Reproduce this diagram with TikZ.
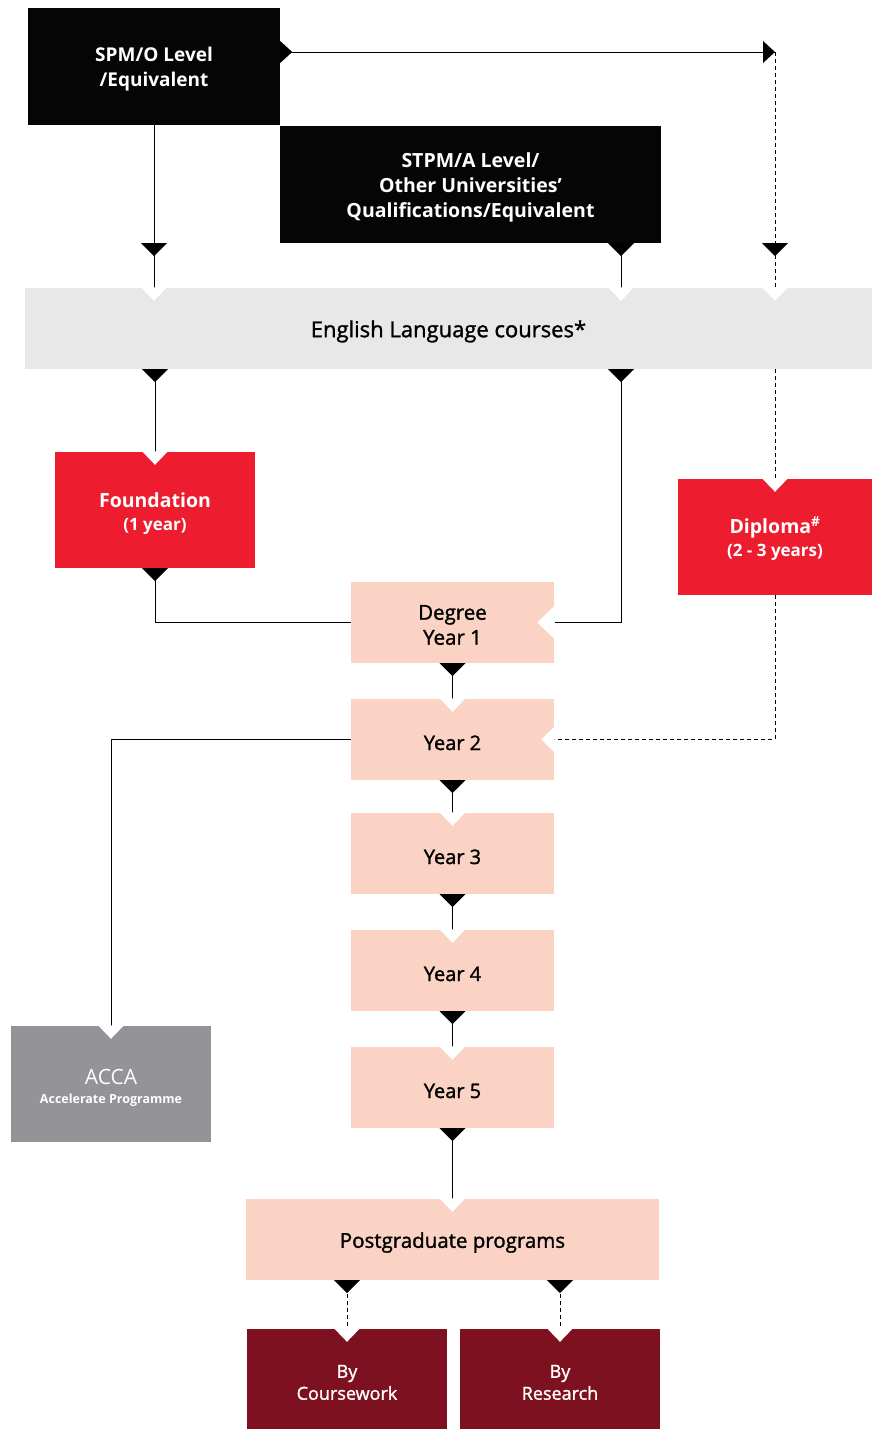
\documentclass[tikz,border=0pt]{standalone}
\usepackage{fontspec}
\setmainfont{Open Sans}
\newfontfamily\semibold{Open Sans}[FakeBold=1.4]
\usetikzlibrary{positioning}

\definecolor{boxblack}{HTML}{050505}
\definecolor{boxgrey}{HTML}{E8E8E8}
\definecolor{boxred}{HTML}{ED1C2E}
\definecolor{boxpeach}{HTML}{FBD3C5}
\definecolor{boxwine}{HTML}{7D1120}
\definecolor{boxstone}{HTML}{939398}

\newcommand*\mainsize{\fontsize{19}{25}\selectfont}
\newcommand*\subsize{\fontsize{17}{23}\selectfont}
\tikzset{
    drop/.initial=6pt,
    stage/.style 2 args={
        rectangle,
        inner sep=0pt,
        minimum width=#1,
        minimum height=#2,
        align=center,
        font=\mainsize,
        execute at begin node={\rule{0pt}{\dimexpr\fontcharht\font`\l+\pgfkeysvalueof{/tikz/drop}\relax}}
    },
    entrybox/.style={stage={252}{117}, fill=boxblack, text=white, font=\mainsize\bfseries, drop=31pt},
    yearbox/.style={stage={203}{81}, fill=boxpeach, font=\fontsize{20}{25}\selectfont\semibold},
    redbox/.style={stage={200}{116}, fill=boxred, text=white, font=\fontsize{19.5}{23}\selectfont\bfseries, drop=31pt},
    pgbox/.style={stage={200}{100}, fill=boxwine, text=white, font=\fontsize{18}{22}\selectfont\semibold, drop=28pt},
    link/.style={line width=0.8pt},
    dlink/.style={link, dash pattern=on 4pt off 3pt},
    tipdown/.pic={\fill[black] (-13,0) -- (13,0) -- (0,13) -- cycle;},
    tipright/.pic={\fill[black] (-12,-11) -- (-12,11) -- (0,0) -- cycle;},
    notchdown/.pic={\fill[white] (-13,-0.5) -- (13,-0.5) -- (0,13) -- cycle;},
    notchleft/.pic={\fill[white] (0.5,-13) -- (0.5,13) -- (-13,0) -- cycle;}
}

\begin{document}
\begin{tikzpicture}[x=1pt,y=-1pt]
    \useasboundingbox (0,0) rectangle (872,1429);

    % Entry qualifications on top.
    \node[entrybox] (spm) at (154,66.5) {SPM/O Level\\/Equivalent};
    \node[entrybox, minimum width=381, font=\fontsize{19.5}{25}\selectfont\bfseries, drop=56pt] (stpm) at (470.5,184.5)
        {STPM/A Level/\\Other Universities'\\Qualifications/Equivalent};
    \node[stage={847}{81}, fill=boxgrey, font=\fontsize{22}{25}\selectfont\semibold] (engl) at (448.5,328.5)
        {English Language courses*};

    % Foundation and diploma routes.
    \node[redbox] (found) at (155,510) {Foundation\\{\subsize (1 year)}};
    \node[redbox, minimum width=194, drop=29pt] (dipl) at (775,537)
        {Diploma\textsuperscript{\#}\\{\subsize (2 - 3 years)}};

    % The degree years. The y coordinate is the middle of each box.
    \node[yearbox, font=\fontsize{20.5}{25}\selectfont\semibold, drop=29pt] (y1) at (452.5,622.5) {Degree\\Year 1};
    \foreach \n/\y in {2/739.5,3/853.5,4/970.5,5/1087.5}
        \node[yearbox] (y\n) at (452.5,\y) {Year \n};
    \node[stage={200}{116}, fill=boxstone, text=white, font=\fontsize{21}{22}\selectfont, drop=27pt] (acca) at (111,1084)
        {ACCA\\[-3pt]{\fontsize{12.5}{14}\selectfont\bfseries Accelerate Programme}};

    % Postgraduate level.
    \node[yearbox, minimum width=413, font=\fontsize{20.5}{25}\selectfont\semibold] (pg) at (452.5,1239.5)
        {Postgraduate programs};
    \node[pgbox] (cw) at (347,1379) {By\\Coursework};
    \node[pgbox] (rs) at (560,1379) {By\\Research};

    \coordinate (turn) at (775,52);
    \coordinate (cR) at (621,0);

    % Connectors.
    \draw[link] (spm.east |- turn) -- (turn);
    \draw[dlink] (turn) -- (turn |- engl.north);
    \draw[link] (spm.south) -- (spm.south |- engl.north);
    \draw[link] (cR |- stpm.south) -- (cR |- engl.north);
    \draw[link] (found.north |- engl.south) -- (found.north);
    \draw[link] (cR |- engl.south) |- (y1.east);
    \draw[link] (found.south) |- (y1.west);
    \draw[dlink] (turn |- engl.south) -- (dipl.north);
    \draw[dlink] (dipl.south) |- (y2.east);
    \draw[link] (y2.west) -| (acca.north);
    \foreach \a/\b in {y1/y2,y2/y3,y3/y4,y4/y5,y5/pg}
        \draw[link] (\a.south) -- (\b.north);
    \draw[dlink] (cw.north |- pg.south) -- (cw.north);
    \draw[dlink] (rs.north |- pg.south) -- (rs.north);

    % Tips and notches.
    \pic at ([xshift=12pt]spm.east |- turn) {tipright};
    \pic at (turn) {tipright};
    \foreach \p in {spm.south,turn,cR}
        \pic at (\p |- stpm.south) {tipdown};
    \foreach \p in {spm.south,turn,cR}
        \pic at (\p |- engl.north) {notchdown};
    \foreach \p in {found.north,cR}
        \pic at (\p |- engl.south) {tipdown};
    \pic at (found.south) {tipdown};
    \foreach \p in {found.north,dipl.north,acca.north,cw.north,rs.north}
        \pic at (\p) {notchdown};
    \foreach \a/\b in {y1/y2,y2/y3,y3/y4,y4/y5,y5/pg} {
        \pic at (\a.south) {tipdown};
        \pic at (\b.north) {notchdown};
    }
    \pic at (cw.north |- pg.south) {tipdown};
    \pic at (rs.north |- pg.south) {tipdown};
    \pic[scale=1.3] at (y1.east) {notchleft};
    \pic at (y2.east) {notchleft};
\end{tikzpicture}
\end{document}
